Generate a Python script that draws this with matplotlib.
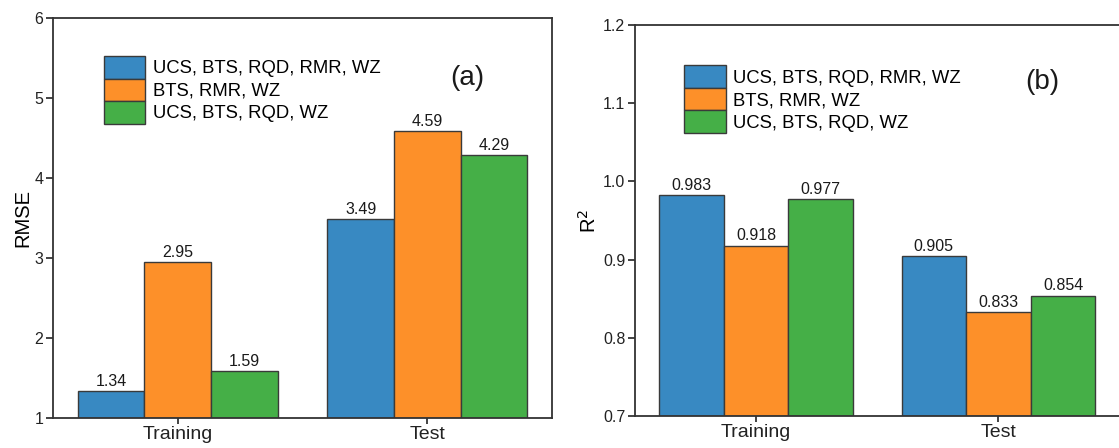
import matplotlib
matplotlib.use("Agg")
import matplotlib.pyplot as plt
import numpy as np

plt.rcParams['font.family'] = ['Liberation Sans', 'DejaVu Sans']

# data
groups = ["Training", "Test"]
series = ["UCS, BTS, RQD, RMR, WZ", "BTS, RMR, WZ", "UCS, BTS, RQD, WZ"]
rmse = [[1.34, 3.49], [2.95, 4.59], [1.59, 4.29]]
r2 = [[0.983, 0.905], [0.918, 0.833], [0.977, 0.854]]
colors = ["#3889C2", "#FD9029", "#45AF47"]

W, H = 1119, 448
fig = plt.figure(figsize=(W / 100, H / 100), dpi=100)


def px_axes(x0, y0, x1, y1):
    """axes from pixel box (top-left origin)"""
    return fig.add_axes([x0 / W, 1 - y1 / H, (x1 - x0) / W, (y1 - y0) / H])


def draw_panel(ax, values, ylim, yticks, fmt, ylabel, tag, tag_xy, leg_xy, label_x):
    x = np.arange(len(groups))
    width = 0.8 / len(series)
    for i, (name, vals) in enumerate(zip(series, values)):
        bars = ax.bar(x + (i - 1) * width, np.array(vals) - ylim[0], width,
                      bottom=ylim[0], color=colors[i], edgecolor="#3a3a3a",
                      linewidth=1.0, label=name)
        ax.bar_label(bars, labels=[fmt % v for v in vals], padding=1.5,
                     fontsize=11.5, color="#1a1a1a")
    ax.set_xlim(-0.5, 1.5)
    ax.set_ylim(*ylim)
    ax.set_yticks(yticks)
    ax.set_xticks(x)
    ax.set_xticklabels(groups, fontsize=14)
    ax.tick_params(axis="y", labelsize=11.5, length=5, width=1.2, pad=2,
                   colors="#222222")
    ax.tick_params(axis="x", length=4, width=1.2, pad=2, colors="#222222")
    for s in ax.spines.values():
        s.set_linewidth(1.3)
        s.set_color("#333333")
    ax.set_ylabel(ylabel, fontsize=14.5)
    ax.yaxis.set_label_coords(label_x, 0.5)
    ax.text(tag_xy[0], tag_xy[1], tag, transform=ax.transAxes, fontsize=20,
            ha="center", va="center", color="#1a1a1a")
    ax.legend(loc="upper left", bbox_to_anchor=leg_xy, frameon=False,
              fontsize=13.3, handlelength=2.25, handleheight=1.5,
              labelspacing=0.0, handletextpad=0.4, borderpad=0.0,
              borderaxespad=0.0)


ax1 = px_axes(53, 18, 552, 418)
draw_panel(ax1, rmse, (1, 6), [1, 2, 3, 4, 5, 6], "%.2f", "RMSE", "(a)",
           (0.83, 0.85), (0.102, 0.905), -0.042)
ax1.set_yticklabels(["1", "2", "3", "4", "5", "6"])

ax2 = px_axes(635, 25, 1119.6, 416)
draw_panel(ax2, r2, (0.7, 1.2), [0.7, 0.8, 0.9, 1.0, 1.1, 1.2], "%.3f",
           "R$^2$", "(b)", (0.84, 0.853), (0.101, 0.897), -0.073)
ax2.set_yticklabels(["0.7", "0.8", "0.9", "1.0", "1.1", "1.2"])

fig.savefig("out.png", dpi=100)
